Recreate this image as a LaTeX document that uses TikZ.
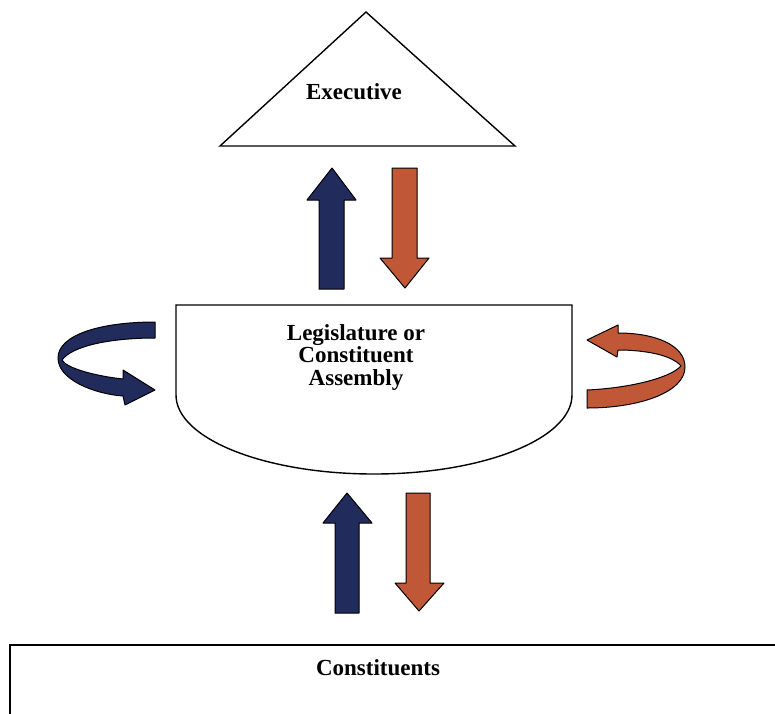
\documentclass[tikz,border=0pt]{standalone}
\usepackage{fontspec}
\setmainfont{Liberation Serif}
\definecolor{navyarrow}{RGB}{33,43,92}
\definecolor{rustarrow}{RGB}{192,88,56}
\tikzset{
  outline/.style={draw=black,line width=1.4pt},
  bluearrow/.style={fill=navyarrow,draw=black,line width=1pt,line join=round},
  rustarrowstyle/.style={fill=rustarrow,draw=black,line width=1pt,line join=round},
  label/.style={font=\fontsize{23}{22.5}\selectfont\bfseries,inner sep=0pt,align=center}
}
\begin{document}
\begin{tikzpicture}[x=1pt,y=-1pt]
\useasboundingbox[fill=white] (0,0) rectangle (775,713);
% Executive triangle
\coordinate (apex) at (366,12);
\coordinate (bl) at (220,146);
\coordinate (br) at (515,146);
\draw[outline] (apex) -- (br) -- (bl) -- cycle;
\node[label,anchor=base] (exec) at (354,99) {Executive};
% Legislature shape
\coordinate (ltl) at (176,305);
\coordinate (ltr) at (572,305);
\draw[outline] (ltl) -- (ltr) -- (572,395) arc[start angle=0,end angle=180,x radius=198,y radius=79] -- cycle;
\node[label] (leg) at (356,357) {Legislature or\\Constituent\\Assembly};
% Constituents box
\draw[outline,line width=1.8pt] (790,645) -- (10,645) -- (10,730);
\node[label,anchor=base] (cons) at (378,675) {Constituents};
% upper straight arrows
\draw[bluearrow] (332,168) -- (356,200) -- (344,200) -- (344,289) -- (319,289) -- (319,200) -- (307,200) -- cycle;
\draw[rustarrowstyle] (405,288) -- (429,258) -- (417,258) -- (417,168) -- (392,168) -- (392,258) -- (380,258) -- cycle;
% lower straight arrows
\draw[bluearrow] (347,493) -- (372,523) -- (359,523) -- (359,613) -- (335,613) -- (335,523) -- (323,523) -- cycle;
\draw[rustarrowstyle] (419,611) -- (444,583) -- (430,583) -- (430,493) -- (406,493) -- (406,583) -- (395,583) -- cycle;
% left curved arrow
\draw[bluearrow] (155,322) .. controls (100,322) and (58,335) .. (58,358)
  .. controls (58,380) and (95,394) .. (123,396) -- (125,405) -- (155,390) -- (123,370) -- (123,379)
  .. controls (95,376) and (66,368) .. (62,360)
  .. controls (72,346) and (110,338) .. (155,338) -- cycle;
% right curved arrow
\draw[rustarrowstyle] (587,390) .. controls (630,388) and (670,378) .. (681,366)
  .. controls (672,355) and (645,350) .. (618,350) -- (617,357) -- (587,340) -- (618,325) -- (618,333)
  .. controls (655,333) and (685,345) .. (685,367)
  .. controls (685,392) and (640,408) .. (587,408) -- cycle;
\end{tikzpicture}
\end{document}
